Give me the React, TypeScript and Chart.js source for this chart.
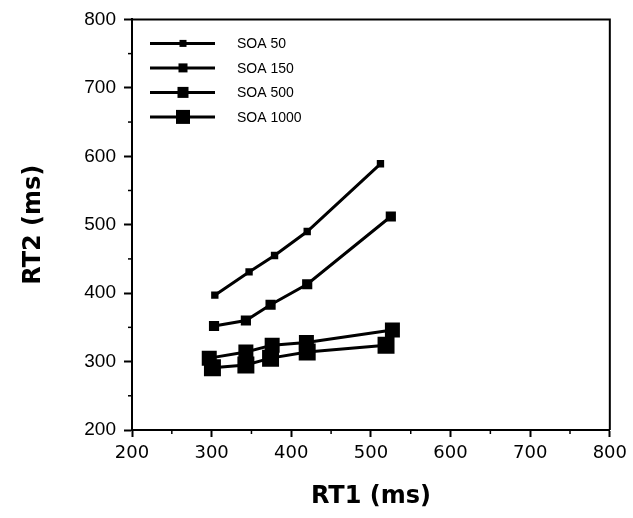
import React, { useEffect, useRef } from "react";
import { Chart, registerables } from "chart.js";

Chart.register(...registerables);

// ---- data ----
const seriesLabels = ["SOA 50", "SOA 150", "SOA 500", "SOA 1000"];
const rt1Soa50 = [304, 347, 379, 420, 512];
const rt2Soa50 = [397, 431, 455, 490, 589];
const rt1Soa150 = [303, 343, 374, 420, 525];
const rt2Soa150 = [352, 360, 383, 413, 512];
const rt1Soa500 = [297, 343, 376, 419, 527];
const rt2Soa500 = [305, 314, 324, 328, 346];
const rt1Soa1000 = [301, 343, 374, 420, 519];
const rt2Soa1000 = [291, 295, 305, 314, 324];
const xTickValues = [200, 300, 400, 500, 600, 700, 800];
const yTickValues = [200, 300, 400, 500, 600, 700, 800];
const minorTickValues = [250, 350, 450, 550, 650, 750];

// ---- styles ----
const pointRadii = [5.2, 7.2, 10.6, 12];
const legendMarkerSizes = [7, 9, 11, 14];
const LEGEND = { lineStart: 18, lineEnd: 83, marker: 51, text: 105, first: 24, gap: 24.5 };

const toPoints = (xs: number[], ys: number[]) => xs.map((x, i) => ({ x, y: ys[i] }));

const frameAndLegend = {
  id: "frameAndLegend",
  afterDraw(chart: any) {
    const { ctx, chartArea: a, scales } = chart;
    ctx.save();
    ctx.strokeStyle = "#000";
    ctx.lineWidth = 2;
    ctx.beginPath();
    ctx.moveTo(a.left, a.top);
    ctx.lineTo(a.right, a.top);
    ctx.lineTo(a.right, a.bottom);
    ctx.stroke();
    // minor ticks
    ctx.lineWidth = 1.5;
    minorTickValues.forEach((v) => {
      const px = scales.x.getPixelForValue(v);
      ctx.beginPath();
      ctx.moveTo(px, a.bottom);
      ctx.lineTo(px, a.bottom + 4);
      ctx.stroke();
      const py = scales.y.getPixelForValue(v);
      ctx.beginPath();
      ctx.moveTo(a.left - 4, py);
      ctx.lineTo(a.left, py);
      ctx.stroke();
    });
    // legend
    chart.data.datasets.forEach((ds: any, i: number) => {
      const y = a.top + LEGEND.first + i * LEGEND.gap;
      ctx.strokeStyle = ds.borderColor;
      ctx.lineWidth = 3;
      ctx.beginPath();
      ctx.moveTo(a.left + LEGEND.lineStart, y);
      ctx.lineTo(a.left + LEGEND.lineEnd, y);
      ctx.stroke();
      const s = legendMarkerSizes[i];
      ctx.fillStyle = ds.pointBackgroundColor;
      ctx.fillRect(a.left + LEGEND.marker - s / 2, y - s / 2, s, s);
      ctx.fillStyle = "#000";
      ctx.font = "14px 'Liberation Sans', Arial, sans-serif";
      ctx.textBaseline = "middle";
      ctx.textAlign = "left";
      ctx.fillText(ds.label, a.left + LEGEND.text, y + 1);
    });
    ctx.restore();
  },
};

export default function App() {
  const ref = useRef<HTMLCanvasElement | null>(null);
  useEffect(() => {
    if (!ref.current) return;
    const xs = [rt1Soa50, rt1Soa150, rt1Soa500, rt1Soa1000];
    const ys = [rt2Soa50, rt2Soa150, rt2Soa500, rt2Soa1000];
    const chart = new Chart(ref.current, {
      type: "line",
      data: {
        datasets: seriesLabels.map((label, i) => ({
          label,
          data: toPoints(xs[i], ys[i]),
          borderColor: "#000",
          backgroundColor: "#000",
          pointBackgroundColor: "#000",
          pointBorderColor: "#000",
          borderWidth: 3,
          pointBorderWidth: 0,
          pointStyle: "rect",
          pointRadius: pointRadii[i],
          fill: false,
          tension: 0,
        })),
      },
      options: {
        responsive: false,
        animation: false,
        layout: { padding: { top: 19, right: 23, left: 0, bottom: 0 } },
        plugins: { legend: { display: false }, tooltip: { enabled: false } },
        scales: {
          x: {
            type: "linear",
            min: 200,
            max: 800,
            afterBuildTicks: (s: any) => {
              s.ticks = xTickValues.map((v) => ({ value: v }));
            },
            afterFit: (s: any) => {
              s.height = 88;
            },
            ticks: {
              color: "#000",
              padding: 6,
              maxRotation: 0,
              font: { family: "'DejaVu Sans', sans-serif", size: 18 },
            },
            grid: { drawOnChartArea: false, drawTicks: true, tickLength: 7, color: "#000", tickWidth: 2 },
            border: { display: true, color: "#000", width: 2 },
            title: {
              display: true,
              text: "RT1 (ms)",
              color: "#000",
              padding: { top: 0, bottom: 7 },
              font: { family: "'DejaVu Sans', sans-serif", size: 24, weight: "bold" },
            },
          },
          y: {
            type: "linear",
            min: 200,
            max: 800,
            afterBuildTicks: (s: any) => {
              s.ticks = yTickValues.map((v) => ({ value: v }));
            },
            afterFit: (s: any) => {
              s.width = 132;
            },
            ticks: {
              color: "#000",
              padding: 8,
              font: { family: "'Liberation Sans', Arial, sans-serif", size: 19 },
            },
            grid: { drawOnChartArea: false, drawTicks: true, tickLength: 8, color: "#000", tickWidth: 2 },
            border: { display: true, color: "#000", width: 2 },
            title: {
              display: true,
              text: "RT2 (ms)",
              color: "#000",
              padding: { top: 19, bottom: 0 },
              font: { family: "'DejaVu Sans', sans-serif", size: 24, weight: "bold" },
            },
          },
        },
      },
      plugins: [frameAndLegend],
    });
    return () => chart.destroy();
  }, []);
  return (
    <div style={{ position: "absolute", left: 0, top: 0, width: 633, height: 518, background: "#fff" }}>
      <canvas ref={ref} width={633} height={518} style={{ width: 633, height: 518, display: "block" }} />
    </div>
  );
}
